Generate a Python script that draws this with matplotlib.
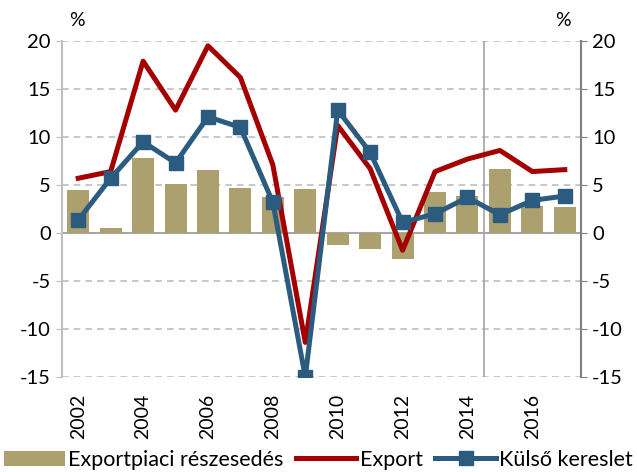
import matplotlib.pyplot as plt
import numpy as np

plt.rcParams['font.family'] = ['Lato', 'DejaVu Sans']
plt.rcParams['axes.unicode_minus'] = False

years = list(range(2002, 2018))
share = [4.5, 0.5, 7.8, 5.1, 6.6, 4.7, 3.75, 4.6, -1.25, -1.7, -2.7, 4.3, 3.85, 6.7, 2.8, 2.7]
export = [5.7, 6.4, 17.9, 12.8, 19.5, 16.2, 7.1, -11.4, 11.2, 6.7, -1.8, 6.4, 7.7, 8.6, 6.4, 6.6]
demand = [1.35, 5.7, 9.5, 7.3, 12.1, 11.0, 3.2, -15.0, 12.8, 8.4, 1.1, 2.0, 3.7, 1.9, 3.4, 3.85]
year_labels = [str(y) if y % 2 == 0 else '' for y in years]

fig = plt.figure(figsize=(6.37, 4.72), dpi=100)
ax = fig.add_axes([62/637, 1-377/472, (581-62)/637, (377-41)/472])

x = np.arange(len(years))
ax.bar(x, share, width=0.68, color='#ADA06F', zorder=2, label='Exportpiaci részesedés')
ax.plot(x, export, color='#A50000', lw=3.6, zorder=3, label='Export')
ax.plot(x, demand, color='#2B5C80', lw=3.6, marker='s', ms=10, zorder=4, label='Külső kereslet')

ax.set_xlim(-0.5, len(years)-0.5)
ax.set_ylim(-15, 20)
ax.set_yticks(range(-15, 21, 5))
for v in range(-15, 21, 5):
    if v != 0:
        ax.axhline(v, color='#BFBFBF', lw=1.2, ls=(0, (4, 3)), zorder=1)
ax.axhline(0, color='#A6A6A6', lw=1.5, zorder=1)
ax.axvline(12.5, color='#A6A6A6', lw=1.2, zorder=1)

ax.set_xticks(x)
ax.set_xticklabels(year_labels, rotation=90, fontsize=14)
ax.tick_params(axis='x', length=0, pad=12)
ax.tick_params(axis='y', labelsize=14.5, length=4, color='#BFBFBF', direction='out', pad=4)

for s in ['top', 'bottom', 'right']:
    ax.spines[s].set_visible(False)
ax.spines['left'].set_color('#BFBFBF')
ax.spines['left'].set_linewidth(1.5)

ax2 = ax.twinx()
ax2.set_ylim(-15, 20)
ax2.set_yticks(range(-15, 21, 5))
ax2.tick_params(axis='y', labelsize=14.5, length=4, color='#808080', direction='out', pad=4)
for s in ['top', 'bottom', 'left']:
    ax2.spines[s].set_visible(False)
ax2.spines['right'].set_color('#808080')
ax2.spines['right'].set_linewidth(1.5)

fig.text(77/637, 1-20/472, '%', fontsize=14, ha='center', va='center')
fig.text(563/637, 1-20/472, '%', fontsize=14, ha='center', va='center')

h1, l1 = ax.get_legend_handles_labels()
order = [l1.index('Exportpiaci részesedés'), l1.index('Export'), l1.index('Külső kereslet')]
fig.legend([h1[i] for i in order], [l1[i] for i in order], loc='center', bbox_to_anchor=(0.5, 1-460/472),
           ncol=3, frameon=False, fontsize=15.5, handlelength=2.8, handletextpad=0.15, columnspacing=0.6,
           borderaxespad=0)

fig.savefig('out.png', dpi=100)
